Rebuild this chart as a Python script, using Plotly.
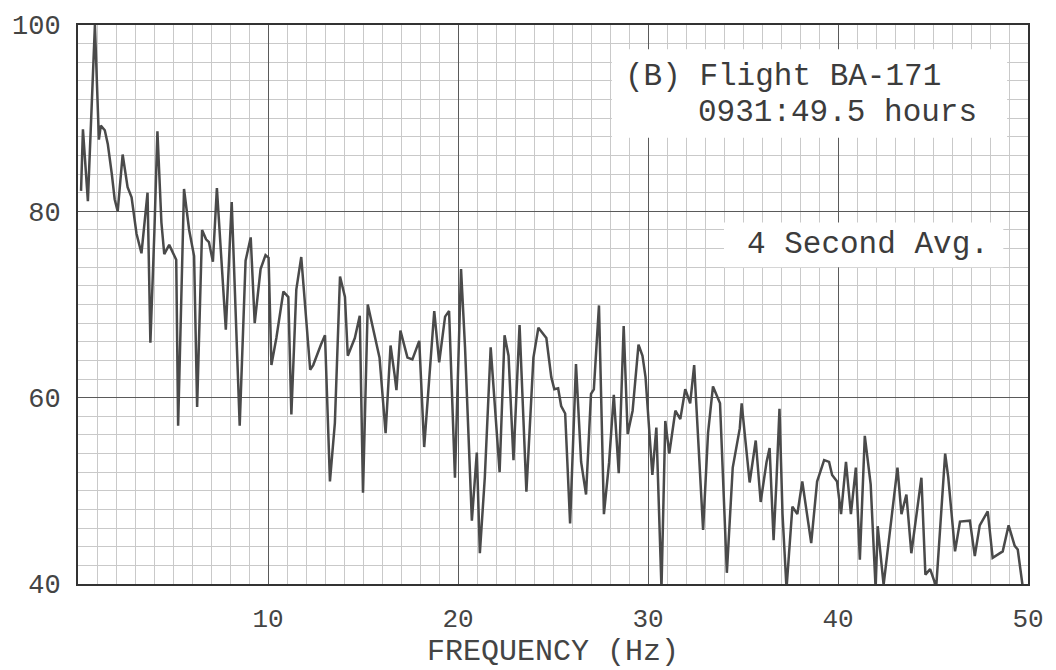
import plotly.graph_objects as go

freq = [0.16, 0.26, 0.52, 0.89, 1.10, 1.20, 1.41, 1.57, 1.78, 1.93, 2.09, 2.35, 2.61, 2.82, 3.08, 3.34,
        3.66, 3.81, 4.02, 4.18, 4.39, 4.54, 4.80, 5.17, 5.27, 5.58, 5.85, 6.11, 6.27, 6.53, 6.74, 6.89,
        7.10, 7.31, 7.78, 8.09, 8.51, 8.82, 9.09, 9.30, 9.61, 9.87, 10.03,
        10.18, 10.44, 10.81, 11.07, 11.23, 11.49, 11.75, 12.22, 12.38, 12.79, 13.00, 13.26, 13.52, 13.79,
        14.05, 14.20, 14.57, 14.83, 15.00, 15.25, 15.51, 15.87, 16.19, 16.45, 16.66, 16.76, 16.97, 17.34,
        17.60, 17.96, 18.22, 18.75, 19.01, 19.32, 19.53, 19.84,
        20.16, 20.37, 20.73, 20.99, 21.15, 21.41, 21.72, 22.19, 22.45, 22.66, 22.92, 23.24, 23.60, 23.97,
        24.23, 24.65, 24.91, 25.07, 25.27, 25.43, 25.64, 25.90, 26.21, 26.48, 26.74, 27.00, 27.15, 27.42,
        27.68, 27.95, 28.20, 28.46, 28.72, 28.93, 29.19, 29.50, 29.71, 29.87,
        30.23, 30.44, 30.71, 30.91, 31.12, 31.44, 31.70, 31.96, 32.22, 32.43, 32.90, 33.16, 33.42, 33.79,
        34.15, 34.46, 34.83, 34.93, 35.35, 35.67, 35.93, 36.24, 36.40, 36.61, 36.76, 36.92, 37.08, 37.29,
        37.60, 37.86, 38.12, 38.59, 38.90, 39.27, 39.53, 39.69, 39.95,
        40.16, 40.42, 40.68, 40.94, 41.15, 41.41, 41.72, 41.98, 42.09, 42.40, 42.82, 43.13, 43.34, 43.60,
        43.86, 44.13, 44.39, 44.60, 44.85, 45.17, 45.64, 45.80, 46.16, 46.42, 46.94, 47.20, 47.46, 47.88,
        48.14, 48.67, 48.98, 49.30, 49.46, 49.71, 49.90]

level_db = [82.2, 88.8, 81.1, 100.0, 87.7, 89.2, 88.7, 87.2, 84.0, 81.3, 80.0, 86.1, 82.6, 81.5, 77.6, 75.5,
            82.0, 65.9, 77.8, 88.6, 78.8, 75.4, 76.4, 74.8, 57.0, 82.4, 78.0, 75.2, 59.0, 78.0, 77.0, 76.7,
            74.6, 82.5, 67.3, 81.0, 57.0, 74.7, 77.2, 68.0, 73.8, 75.3, 75.0,
            63.5, 66.4, 71.4, 70.8, 58.2, 71.6, 75.1, 63.0, 63.5, 65.7, 66.7, 51.0, 57.3, 73.0,
            70.8, 64.5, 66.4, 68.8, 49.8, 70.0, 67.5, 64.3, 56.2, 65.6, 62.5, 60.8, 67.2, 64.3,
            64.1, 66.1, 54.7, 69.3, 63.8, 68.7, 69.3, 51.4,
            73.8, 65.4, 46.8, 54.1, 43.3, 51.4, 65.4, 52.0, 66.7, 64.5, 53.3, 67.8, 49.9, 64.3,
            67.5, 66.4, 62.2, 60.9, 61.0, 59.1, 58.3, 46.5, 63.6, 53.1, 49.6, 60.4, 60.9, 69.9,
            47.5, 53.0, 60.3, 51.9, 67.7, 56.1, 58.6, 65.7, 64.5, 62.2,
            51.7, 56.8, 39.5, 57.5, 54.0, 58.6, 57.7, 60.9, 59.4, 63.5, 45.8, 56.2, 61.2, 59.4,
            41.2, 52.5, 56.7, 59.4, 50.9, 55.4, 48.8, 53.1, 54.6, 44.7, 51.0, 58.8, 47.5, 39.5,
            48.3, 47.5, 51.0, 44.4, 51.0, 53.3, 53.1, 51.7, 51.0,
            47.5, 53.1, 47.5, 52.5, 42.6, 55.9, 50.7, 39.5, 46.2, 39.9, 47.5, 52.5, 47.5, 49.6,
            43.3, 47.5, 51.4, 41.0, 41.6, 39.7, 54.0, 51.5, 43.5, 46.7, 46.8, 43.0, 46.3, 47.8,
            42.8, 43.5, 46.3, 44.1, 43.7, 39.9, 38.5]

x_ticks = [10, 20, 30, 40, 50]
y_ticks = [40, 60, 80, 100]

MONO = "Liberation Mono, Courier New, monospace"
INK = "#3c3c3c"

fig = go.Figure()
fig.add_trace(go.Scatter(x=freq, y=level_db, mode="lines",
                         line=dict(color="#4a4a4a", width=2.5), showlegend=False))

# white patches behind the annotation texts (grid erased)
fig.add_shape(type="rect", xref="x", yref="y", x0=28.1, x1=48.9, y0=87.9, y1=97.4,
              fillcolor="white", line=dict(width=0), layer="between")
fig.add_shape(type="rect", xref="x", yref="y", x0=34.0, x1=48.7, y0=74.0, y1=78.8,
              fillcolor="white", line=dict(width=0), layer="between")

fig.add_annotation(x=28.7, y=94.5, xref="x", yref="y", text="(B) Flight BA-171",
                   showarrow=False, xanchor="left", yanchor="middle",
                   font=dict(family=MONO, size=31, color=INK))
fig.add_annotation(x=32.5, y=90.6, xref="x", yref="y", text="0931:49.5 hours",
                   showarrow=False, xanchor="left", yanchor="middle",
                   font=dict(family=MONO, size=31, color=INK))
fig.add_annotation(x=35.1, y=76.4, xref="x", yref="y", text="4 Second Avg.",
                   showarrow=False, xanchor="left", yanchor="middle",
                   font=dict(family=MONO, size=31, color=INK))

fig.update_xaxes(range=[0, 50], tickvals=x_ticks, ticktext=[str(v) for v in x_ticks],
                 showgrid=True, gridcolor="#5a5a5a", gridwidth=1.4,
                 minor=dict(dtick=1, showgrid=True, gridcolor="#c9c9c9", gridwidth=1),
                 showline=True, linecolor="#333333", linewidth=2, mirror=True,
                 ticks="", ticklabelstandoff=10, zeroline=False,
                 tickfont=dict(family=MONO, size=26, color="#444444"),
                 title=dict(text="FREQUENCY (Hz)", standoff=2,
                            font=dict(family=MONO, size=30, color="#444444")))
fig.update_yaxes(range=[40, 100], tickvals=y_ticks, ticktext=[str(v) for v in y_ticks],
                 showgrid=True, gridcolor="#5a5a5a", gridwidth=1.4,
                 minor=dict(dtick=2, showgrid=True, gridcolor="#c9c9c9", gridwidth=1),
                 showline=True, linecolor="#333333", linewidth=2, mirror=True,
                 ticks="", ticklabelstandoff=10, zeroline=False,
                 tickfont=dict(family=MONO, size=27, color="#444444"))

fig.update_layout(width=1056, height=670,
                  margin=dict(l=73, r=26, t=20, b=76),
                  paper_bgcolor="white", plot_bgcolor="white")

fig.write_html("out.html")
